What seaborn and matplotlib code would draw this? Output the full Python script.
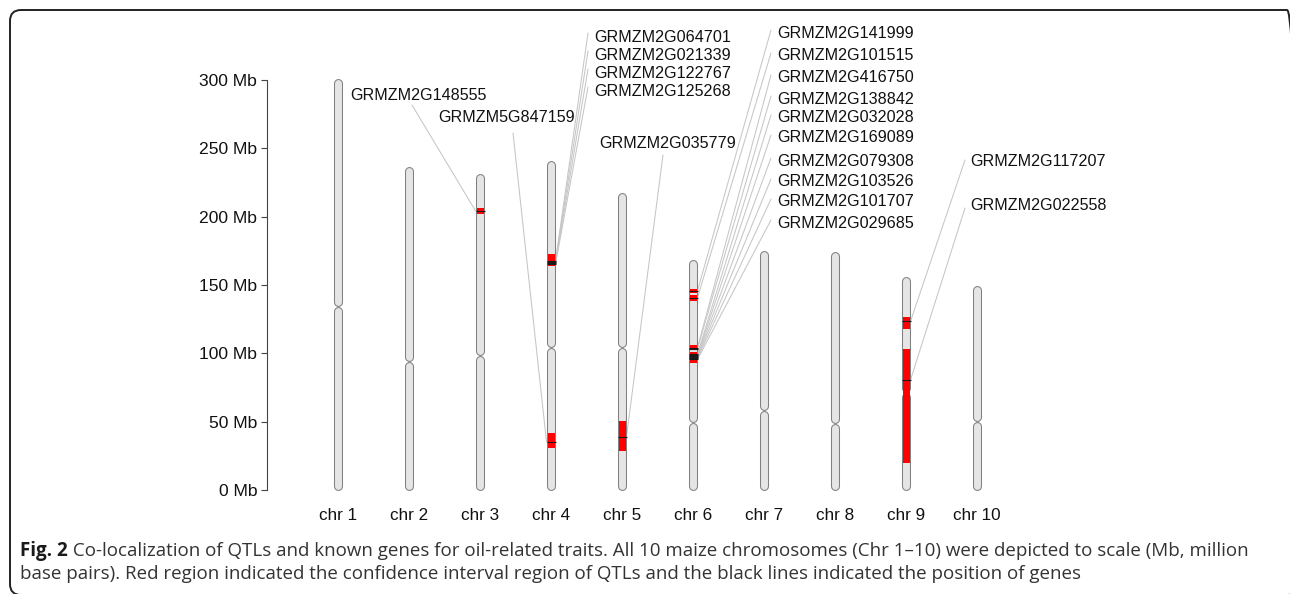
import matplotlib
matplotlib.use("Agg")
import matplotlib.pyplot as plt
from matplotlib.patches import FancyBboxPatch, Rectangle
from matplotlib.transforms import IdentityTransform
import seaborn as sns

# chromosomes (Mb)
chrom_names = ['chr 1', 'chr 2', 'chr 3', 'chr 4', 'chr 5', 'chr 6', 'chr 7', 'chr 8', 'chr 9', 'chr 10']
chrom_len = [301.4, 236.8, 231.5, 241.3, 217.5, 168.5, 175.6, 174.3, 156.5, 149.6]
centromere = [134.5, 93.9, 98.6, 104.6, 104.6, 49.2, 58.5, 48.8, 71.0, 50.0]

# QTL confidence intervals
qtl_chrom = [3, 4, 4, 5, 6, 6, 6, 6, 9, 9]
qtl_start = [202.0, 164.1, 30.9, 28.8, 144.3, 138.4, 102.4, 93.0, 117.8, 20.0]
qtl_end = [206.3, 172.6, 41.9, 50.5, 147.0, 143.0, 106.0, 101.0, 126.8, 103.1]

# known genes
gene_names = ['GRMZM2G148555', 'GRMZM5G847159',
              'GRMZM2G064701', 'GRMZM2G021339', 'GRMZM2G122767', 'GRMZM2G125268',
              'GRMZM2G035779',
              'GRMZM2G141999', 'GRMZM2G101515', 'GRMZM2G416750', 'GRMZM2G138842',
              'GRMZM2G032028', 'GRMZM2G169089', 'GRMZM2G079308', 'GRMZM2G103526',
              'GRMZM2G101707', 'GRMZM2G029685',
              'GRMZM2G117207', 'GRMZM2G022558']
gene_chrom = [3, 4, 4, 4, 4, 4, 5, 6, 6, 6, 6, 6, 6, 6, 6, 6, 6, 9, 9]
gene_pos = [204.3, 35.3, 167.5, 166.8, 166.0, 165.3, 39.0,
            145.8, 140.7, 104.2, 103.4, 99.5, 98.6, 97.8, 97.0, 96.3, 95.6,
            123.4, 80.5]

# label layout in figure pixels: text left, text centre y, leader start x, y, side of chromosome
chr6_rows = [33, 56, 78, 99, 118, 138, 161, 182, 202, 223]
label_layout = ([(350, 96, 412, 105, 'left'), (438, 117, 513, 133, 'left')]
                + [(594, y, 588, y - 4, 'right') for y in (37, 55, 73, 91)]
                + [(599, 144, 663, 155, 'right')]
                + [(777, y, 771, y - 3, 'right') for y in chr6_rows]
                + [(970, 161, 965, 160, 'right'), (970, 205, 965, 208, 'right')])

sns.set_theme(style='ticks')
plt.rcParams['font.family'] = ['Liberation Sans', 'DejaVu Sans']

W, H = 1290, 594
fig = plt.figure(figsize=(W / 100, H / 100), dpi=100)
ax = fig.add_axes([267 / W, 104 / H, 781 / W, 410 / H])
ax.set_xlim(0, 11)
ax.set_ylim(0, 300)

px_x = 1 / 71.0           # data units per pixel, x
px_y = 300 / 410.0        # data units per pixel, y


def to_data(px, py):
    return (px - 267) * px_x, (490 - py) * px_y


# chromosome arms as rounded bars
r = 4.5 * px_y
for i, (L, cen) in enumerate(zip(chrom_len, centromere)):
    x = i + 1
    for a, b in [(0, cen), (cen, L)]:
        ax.plot([x, x], [a + r, b - r], color='#808080', lw=6.5,
                solid_capstyle='round', clip_on=False, zorder=2)
        ax.plot([x, x], [a + r, b - r], color='#e5e5e5', lw=5.0,
                solid_capstyle='round', clip_on=False, zorder=3)

# QTL regions
w = 7 * px_x
for c, s, e in zip(qtl_chrom, qtl_start, qtl_end):
    ax.add_patch(Rectangle((c - w / 2, s), w, e - s, facecolor='#ff0000',
                           edgecolor='none', zorder=4))

# genes and labels
half = 4.5 * px_x
ax.hlines(gene_pos, [c - half for c in gene_chrom], [c + half for c in gene_chrom],
          color='#1a1a1a', lw=0.8, zorder=5)
for name, c, pos, (tx, ty, lx, ly, side) in zip(gene_names, gene_chrom, gene_pos, label_layout):
    x0, y0 = to_data(lx, ly)
    x1 = c - half if side == 'left' else c + half
    ax.plot([x0, x1], [y0, pos], color='#c6c6c6', lw=0.75, clip_on=False, zorder=1)
    tx_d, ty_d = to_data(tx, ty)
    ax.text(tx_d, ty_d, name, ha='left', va='center', fontsize=11.6,
            color='#111111', clip_on=False)

# axes styling
ax.set_yticks(range(0, 301, 50))
ax.set_yticklabels([f'{v} Mb' for v in range(0, 301, 50)])
ax.set_xticks(range(1, 11))
ax.set_xticklabels(chrom_names)
ax.tick_params(axis='y', direction='out', length=4.5, width=0.8, color='#444444',
               labelsize=12.6, pad=2.5, labelcolor='#111111')
ax.tick_params(axis='x', length=0, labelsize=12.3, pad=13, labelcolor='#111111')
sns.despine(ax=ax, bottom=True)
ax.spines['left'].set_color('#444444')
ax.spines['left'].set_linewidth(0.8)
ax.set_facecolor('none')

# rounded frame around the figure (right and bottom edges run off the picture)
fig.patches.append(FancyBboxPatch((10, -1), 1288, 585,
                                  boxstyle='round,pad=0,rounding_size=11',
                                  transform=IdentityTransform(), fill=False,
                                  lw=1.4, ec='#222222'))

# caption
cap_font = ['Open Sans', 'DejaVu Sans']
line1 = ' Co-localization of QTLs and known genes for oil-related traits. All 10 maize chromosomes (Chr 1\u201310) were depicted to scale (Mb, million'
line2 = 'base pairs). Red region indicated the confidence interval region of QTLs and the black lines indicated the position of genes'

fig.canvas.draw()
rend = fig.canvas.get_renderer()
size = 12.0
t_b = fig.text(20 / W, 38 / H, 'Fig. 2', family=cap_font, weight='bold', fontsize=size,
               color='#1a1a1a', va='baseline')
t_r = fig.text(0, 38 / H, line1, family=cap_font, fontsize=size, color='#333333', va='baseline')
wtot = t_b.get_window_extent(rend).width + t_r.get_window_extent(rend).width
size = min(size * 1226 / wtot, 14)
t_b.set_fontsize(size)
t_r.set_fontsize(size)
wb = t_b.get_window_extent(rend).width
t_r.set_x((20 + wb) / W)
fig.text(20 / W, 15 / H, line2, family=cap_font, fontsize=size, color='#333333', va='baseline')

fig.savefig('out.png', dpi=100)
